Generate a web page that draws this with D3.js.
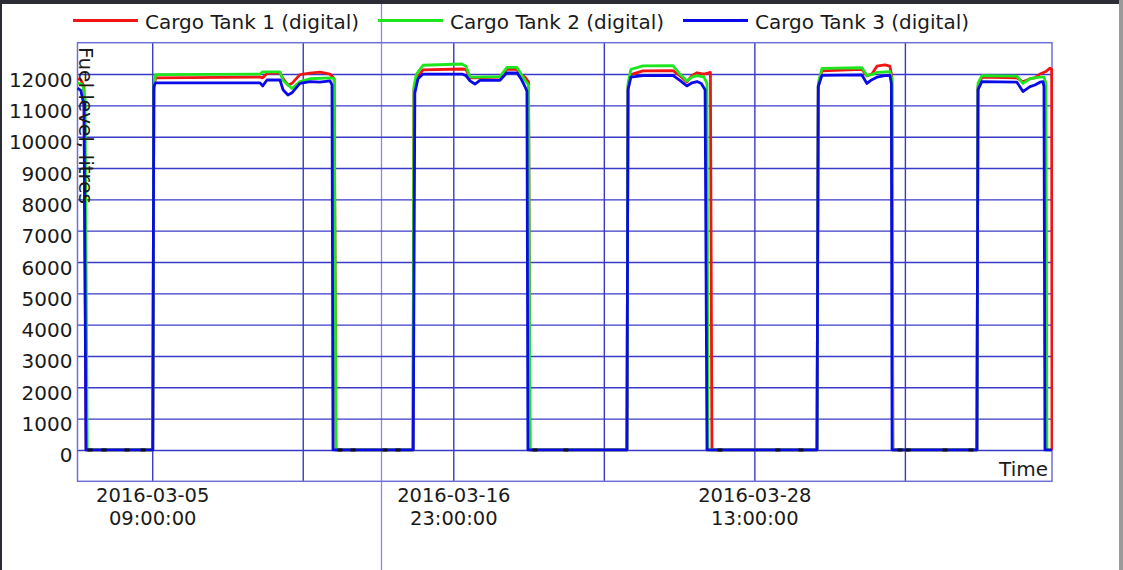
<!DOCTYPE html>
<html><head><meta charset="utf-8">
<script src="https://cdn.jsdelivr.net/npm/d3@7"></script>
<style>
html,body{margin:0;padding:0;background:#fff;}
svg{display:block;}
text{font-family:"DejaVu Sans",sans-serif;fill:#1a1a1a;}
</style></head>
<body><svg id="c" width="1123" height="570"></svg>
<script>
// ---- data ----
const seriesNames = ["Cargo Tank 1 (digital)", "Cargo Tank 2 (digital)", "Cargo Tank 3 (digital)"];
const seriesColors = ["#f01414", "#1ee61e", "#0a0ae6"];
const yTicks = [0,1000,2000,3000,4000,5000,6000,7000,8000,9000,10000,11000,12000];
const xTickDates = ["2016-03-05 09:00","2016-03-11 04:00","2016-03-16 23:00","2016-03-22 18:00","2016-03-28 13:00","2016-04-03 08:00"];
const xTickDateLabels = ["2016-03-05", "", "2016-03-16", "", "2016-03-28", ""];
const xTickTimeLabels = ["09:00:00", "", "23:00:00", "", "13:00:00", ""];
const timeDomain = ["2016-03-02 12:00","2016-04-08 23:50"];

const tank1 = [
["2016-03-02 12:00",11850],["2016-03-02 15:00",11820],["2016-03-02 18:00",11600],["2016-03-02 20:00",0],
["2016-03-05 09:30",0],["2016-03-05 10:30",11500],["2016-03-05 12:00",11880],["2016-03-09 12:30",11900],
["2016-03-09 15:00",11880],["2016-03-09 19:00",12020],["2016-03-10 07:00",12040],["2016-03-10 09:45",11850],
["2016-03-10 14:20",11650],["2016-03-10 18:00",11700],["2016-03-11 01:25",11980],["2016-03-11 10:40",12030],
["2016-03-11 19:55",12060],["2016-03-12 05:10",12000],["2016-03-12 09:00",11850],["2016-03-12 10:40",0],
["2016-03-15 09:45",0],["2016-03-15 10:40",11500],["2016-03-15 13:00",11850],["2016-03-15 19:00",12130],
["2016-03-17 07:00",12160],["2016-03-17 10:40",12150],["2016-03-17 14:25",11880],["2016-03-17 19:00",11880],
["2016-03-18 18:05",11900],["2016-03-19 00:30",12150],["2016-03-19 09:45",12150],["2016-03-19 13:30",11980],
["2016-03-19 17:10",11900],["2016-03-19 20:30",11750],["2016-03-19 21:50",0],
["2016-03-23 15:20",0],["2016-03-23 16:20",11600],["2016-03-23 19:00",11980],["2016-03-24 06:05",12100],
["2016-03-25 09:50",12110],["2016-03-25 16:15",11950],["2016-03-25 22:40",11750],["2016-03-26 03:25",11950],
["2016-03-26 08:00",12040],["2016-03-26 14:30",12000],["2016-03-26 20:25",12050],["2016-03-26 21:50",0],
["2016-03-30 22:50",0],["2016-03-31 00:00",11600],["2016-03-31 03:25",12100],["2016-04-01 16:20",12150],
["2016-04-01 20:55",11940],["2016-04-02 01:30",12000],["2016-04-02 06:10",12250],["2016-04-02 13:30",12290],
["2016-04-02 18:10",12250],["2016-04-02 20:00",11900],["2016-04-02 20:55",0],
["2016-04-06 02:30",0],["2016-04-06 03:30",11600],["2016-04-06 07:05",11900],["2016-04-07 15:25",11880],
["2016-04-07 21:00",11750],["2016-04-08 03:30",11850],["2016-04-08 08:05",11880],["2016-04-08 12:40",12000],
["2016-04-08 18:15",12080],["2016-04-08 22:00",12190],["2016-04-08 23:30",12150],["2016-04-08 23:50",0]
];
const tank2 = [
["2016-03-02 12:00",11720],["2016-03-02 17:00",11650],["2016-03-02 19:00",11200],["2016-03-02 21:00",0],
["2016-03-05 09:30",0],["2016-03-05 10:30",11600],["2016-03-05 12:00",11980],["2016-03-09 12:30",12000],
["2016-03-09 15:00",12070],["2016-03-10 07:00",12070],["2016-03-10 09:45",11800],["2016-03-10 18:00",11540],
["2016-03-11 01:25",11760],["2016-03-11 10:40",11850],["2016-03-12 05:10",11880],["2016-03-12 09:00",11850],
["2016-03-12 10:40",0],
["2016-03-15 09:45",0],["2016-03-15 10:40",11600],["2016-03-15 13:00",12000],["2016-03-15 19:00",12280],
["2016-03-17 07:00",12320],["2016-03-17 10:40",12250],["2016-03-17 14:25",11910],["2016-03-17 19:00",11900],
["2016-03-18 18:05",11920],["2016-03-19 00:30",12210],["2016-03-19 09:45",12210],["2016-03-19 13:30",12000],
["2016-03-19 17:10",11800],["2016-03-19 20:30",11650],["2016-03-19 21:50",0],
["2016-03-23 15:20",0],["2016-03-23 16:20",11700],["2016-03-23 19:00",12150],["2016-03-24 06:05",12260],
["2016-03-25 09:50",12270],["2016-03-25 16:15",12000],["2016-03-25 22:40",11780],["2016-03-26 03:25",11900],
["2016-03-26 08:00",11950],["2016-03-26 14:30",11900],["2016-03-26 17:15",11700],["2016-03-26 18:10",0],
["2016-03-30 22:50",0],["2016-03-31 00:00",11700],["2016-03-31 03:25",12180],["2016-04-01 16:20",12200],
["2016-04-01 20:55",11950],["2016-04-02 01:30",11980],["2016-04-02 06:10",12050],["2016-04-02 18:10",12080],
["2016-04-02 20:00",11850],["2016-04-02 20:55",0],
["2016-04-06 02:30",0],["2016-04-06 03:30",11700],["2016-04-06 07:05",11950],["2016-04-07 15:25",11930],
["2016-04-07 21:00",11700],["2016-04-08 03:30",11850],["2016-04-08 12:40",11900],["2016-04-08 16:25",11900],
["2016-04-08 18:15",11700],["2016-04-08 19:10",0],["2016-04-08 23:50",0]
];
const tank3 = [
["2016-03-02 12:00",11550],["2016-03-02 15:00",11480],["2016-03-02 18:00",11000],["2016-03-02 19:50",0],
["2016-03-05 09:30",0],["2016-03-05 10:30",11600],["2016-03-05 12:00",11720],["2016-03-09 12:30",11720],
["2016-03-09 15:00",11620],["2016-03-09 19:00",11810],["2016-03-10 07:00",11810],["2016-03-10 09:45",11500],
["2016-03-10 14:20",11330],["2016-03-10 18:00",11400],["2016-03-11 01:25",11700],["2016-03-11 10:40",11760],
["2016-03-11 19:55",11740],["2016-03-12 05:10",11780],["2016-03-12 07:00",11650],["2016-03-12 07:55",0],
["2016-03-15 10:00",0],["2016-03-15 11:30",11400],["2016-03-15 14:25",11850],["2016-03-15 19:00",12000],
["2016-03-17 07:00",12000],["2016-03-17 10:40",11950],["2016-03-17 14:25",11780],["2016-03-17 19:00",11680],
["2016-03-17 23:35",11800],["2016-03-18 18:05",11800],["2016-03-19 00:30",12040],["2016-03-19 09:45",12040],
["2016-03-19 13:30",11850],["2016-03-19 17:10",11600],["2016-03-19 19:00",11450],["2016-03-19 19:55",0],
["2016-03-23 15:20",0],["2016-03-23 16:20",11500],["2016-03-23 19:00",11900],["2016-03-24 06:05",11950],
["2016-03-25 09:50",11960],["2016-03-25 16:15",11800],["2016-03-25 22:40",11620],["2016-03-26 03:25",11720],
["2016-03-26 08:00",11760],["2016-03-26 12:00",11700],["2016-03-26 15:30",11500],["2016-03-26 17:15",0],
["2016-03-30 22:50",0],["2016-03-31 00:00",11600],["2016-03-31 03:25",11960],["2016-04-01 16:20",11970],
["2016-04-01 20:55",11700],["2016-04-02 01:30",11820],["2016-04-02 06:10",11900],["2016-04-02 13:30",11950],
["2016-04-02 18:10",11960],["2016-04-02 19:30",11700],["2016-04-02 20:10",0],
["2016-04-06 02:30",0],["2016-04-06 03:30",11500],["2016-04-06 07:05",11760],["2016-04-07 15:25",11740],
["2016-04-07 21:00",11440],["2016-04-08 03:30",11600],["2016-04-08 08:05",11650],["2016-04-08 12:40",11740],
["2016-04-08 15:30",11760],["2016-04-08 16:25",11600],["2016-04-08 17:20",0],["2016-04-08 23:50",0]
];
const zeroMarks = ["2016-03-02 23:30","2016-03-03 12:30","2016-03-04 09:40","2016-03-05 00:30",
"2016-03-12 14:25","2016-03-13 02:25","2016-03-14 07:55","2016-03-14 19:55",
"2016-03-20 02:25","2016-03-21 07:00","2016-03-27 05:10","2016-03-29 10:40","2016-03-30 08:00",
"2016-04-03 03:25","2016-04-03 10:50","2016-04-04 21:00","2016-04-05 21:00"];

// ---- drawing ----
const parse = d3.timeParse("%Y-%m-%d %H:%M");
const svg = d3.select("#c");
const L = 77.5, R = 1052, T = 42.7, B = 481.3;
const x = d3.scaleTime().domain(timeDomain.map(parse)).range([L, R]);
const y = d3.scaleLinear().domain([-1000, 13000]).range([B, T]);

// page decorations
svg.append("rect").attr("x",0).attr("y",0).attr("width",1123).attr("height",570).attr("fill","#fff");
svg.append("rect").attr("x",0).attr("y",0).attr("width",1120).attr("height",4).attr("fill","#2c2c36");
svg.append("rect").attr("x",0).attr("y",0).attr("width",2).attr("height",570).attr("fill","#2c2c36");
svg.append("rect").attr("x",1119).attr("y",0).attr("width",4).attr("height",570).attr("fill","#9a9a9a");
svg.append("line").attr("x1",381.5).attr("x2",381.5).attr("y1",4).attr("y2",570)
  .attr("stroke","#8a8ae0").attr("stroke-width",1.3);

// grid via axes
const gridColor = "#3a3ac8";
const yAxis = d3.axisLeft(y).tickValues(yTicks).tickSize(-(R-L)).tickPadding(5).tickFormat(d3.format("d"));
const gy = svg.append("g").attr("transform",`translate(${L},0)`).call(yAxis);
gy.select(".domain").remove();
gy.selectAll(".tick line").attr("stroke",gridColor).attr("stroke-width",1.4);
gy.selectAll(".tick text").attr("font-size",20).attr("dy","0.6em").attr("x",-5)
  .style("font-family","DejaVu Sans").attr("fill","#1a1a1a");

const xAxis = d3.axisBottom(x).tickValues(xTickDates.map(parse)).tickSize(-(B-T)).tickFormat("");
const gx = svg.append("g").attr("transform",`translate(0,${B})`).call(xAxis);
gx.select(".domain").remove();
gx.selectAll(".tick line").attr("stroke",gridColor).attr("stroke-width",1.4);
gx.selectAll(".tick").each(function(d,i){
  if(!xTickDateLabels[i]) return;
  const g = d3.select(this);
  g.append("text").attr("text-anchor","middle").attr("font-size",19.5).attr("fill","#1a1a1a")
    .attr("x",0).attr("y",21).text(xTickDateLabels[i]);
  g.append("text").attr("text-anchor","middle").attr("font-size",19.5).attr("fill","#1a1a1a")
    .attr("x",0).attr("y",44).text(xTickTimeLabels[i]);
});

// frame
svg.append("rect").attr("x",L).attr("y",T).attr("width",R-L).attr("height",B-T)
  .attr("fill","none").attr("stroke","#6f6fd8").attr("stroke-width",1.5);

// series lines
const line = d3.line().x(d=>x(parse(d[0]))).y(d=>y(d[1]));
svg.append("clipPath").attr("id","pc").append("rect")
  .attr("x",L-1).attr("y",T).attr("width",R-L+2).attr("height",B-T);
const gl = svg.append("g").attr("clip-path","url(#pc)");
[tank1, tank2, tank3].forEach((s,i)=>{
  gl.append("path").datum(s).attr("d",line).attr("fill","none")
    .attr("stroke",seriesColors[i]).attr("stroke-width",2.8).attr("stroke-linejoin","round");
});
gl.selectAll("rect.zm").data(zeroMarks).enter().append("rect").attr("class","zm")
  .attr("x",d=>x(parse(d))-2.5).attr("y",y(0)-1.5).attr("width",5).attr("height",3).attr("fill","#101020");

// axis titles
svg.append("text").attr("x",1048).attr("y",476).attr("text-anchor","end").attr("font-size",20).text("Time");
svg.append("text").attr("transform","translate(79,47) rotate(90)").attr("font-size",20).text("Fuel level, litres");

// legend
const legX = [73, 378, 683];
seriesNames.forEach((n,i)=>{
  svg.append("line").attr("x1",legX[i]).attr("x2",legX[i]+65).attr("y1",20.5).attr("y2",20.5)
    .attr("stroke",seriesColors[i]).attr("stroke-width",3.2);
  svg.append("text").attr("x",legX[i]+72).attr("y",28.5).attr("font-size",20).text(n);
});
</script></body></html>
